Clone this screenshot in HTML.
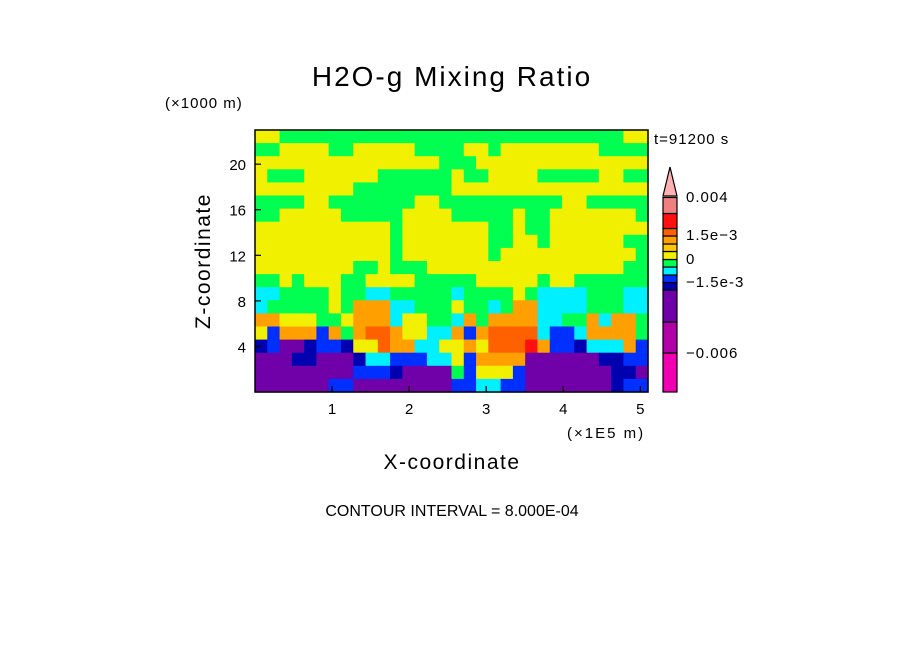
<!DOCTYPE html>
<html><head><meta charset="utf-8"><style>
body{margin:0;background:#fff;}
svg text{font-family:"Liberation Sans",sans-serif;fill:#000;}
</style></head><body>
<svg id="chart" width="904" height="654" viewBox="0 0 904 654" xmlns="http://www.w3.org/2000/svg">
<rect width="904" height="654" fill="#fff"/>
<text x="452" y="86" font-size="28" text-anchor="middle" letter-spacing="2">H2O-g Mixing Ratio</text>
<text x="165" y="108" font-size="15" letter-spacing="1">(×1000 m)</text>
<text x="654" y="144" font-size="15" letter-spacing="1">t=91200 s</text>
<g id="field"></g>
<rect x="255" y="130" width="393" height="262" fill="none" stroke="#000" stroke-width="1.5"/>
<g id="ticks"></g>
<text x="567" y="438" font-size="15" letter-spacing="2">(×1E5 m)</text>
<text x="452" y="469" font-size="21" text-anchor="middle" letter-spacing="1.5">X-coordinate</text>
<text x="210" y="261" font-size="21" text-anchor="middle" letter-spacing="1.5" transform="rotate(-90 210 261)">Z-coordinate</text>
<text x="452" y="516" font-size="16" text-anchor="middle">CONTOUR INTERVAL = 8.000E-04</text>
<g id="cbar"></g>
</svg>
<script>
const xTicks=[1,2,3,4,5];
const yTicks=[4,8,12,16,20];
const xRange=[0,5.1], yRange=[0,23];
const levelColors={P2:'#f000b0',P1:'#b000a8',P:'#7000a8',D:'#0000b0',B:'#0030ff',C:'#00f0ff',G:'#00ff50',Y:'#f0f000',o:'#ffc800',O:'#ffa000',R:'#ff6000',r:'#ff1010',S:'#f08080'};
const cbarLevels=['P2','P1','P','D','B','C','G','Y','o','O','R','r','S'];
const cbarLabels=['0.004','1.5e-3','0','-1.5e-3','-0.006'];
const grid=[
"YYGGGGGGGGGGGGGGGGGGGGGGGGGGGGYY",
"GGYYYYGGYYYYYGGGGYYGYYYYYYYYGGGG",
"YYYYYYYYYYYYYYYGGGYYYYYYYYYYYYYY",
"YGGGYYYYYYGGGGGGYGGYYYYGGGGGYYGG",
"YYYYYYYYGGGGGGGGYYYYYYYYYYYYYYYY",
"GGGGYYGGGGGGGYYGGGGGGGGGGYYGGGGG",
"GGYYYYYGGGGGYYYYGGGGGYGGYYYYYYYG",
"YYYYYYYYYYYGYYYYYYYGGYGGYYYYYYYY",
"YYYYYYYYYYYGYYYYYYYGGYYGYYYYYYGG",
"YYYYYYYYYYYGYYYYYYYGYYYYYYYYYYYG",
"YYYYYYYYGGYGGGYYYYYYYYYYYYYYYYGG",
"GGYGYYYGGYYYYGGGGGYYYYYGYYGGGGGG",
"CCGGGGYGGCCGGGGGCGGGGYGCCCCGGGCC",
"CGGGGGYGOOOCCGGGYGGCGOOCCCCGGGCC",
"OOYYYGGYOOOCYYGGCOGOOOOCCGGOCOOG",
"YBOOOBOGORROYYCCOBORRRRCBBCOOOOG",
"DBPPDBBDYYROOCCYYOYRRRrOBBDCCCOB",
"PPPDDPPPDCCBBBCCYBOOOOPPPPPPDDBB",
"PPPPPPPPBBBDPPPPGBYYYBPPPPPPPDDP",
"PPPPPPBBPPPPPPPPBBCCBBPPPPPPPDBB"
];
const NS='http://www.w3.org/2000/svg';
const px0=255,px1=648,py0=392,py1=130;
const X=v=>px0+(v-xRange[0])/(xRange[1]-xRange[0])*(px1-px0);
const Y=v=>py0-(v-yRange[0])/(yRange[1]-yRange[0])*(py0-py1);
function mk(tag,attrs,parent){const e=document.createElementNS(NS,tag);for(const k in attrs)e.setAttribute(k,attrs[k]);parent.appendChild(e);return e;}
const field=document.getElementById('field');
const rows=grid.length,cols=grid[0].length;
const cw=(px1-px0)/cols,ch=(py0-py1)/rows;
grid.forEach((row,i)=>{[...row].forEach((c,j)=>{
 const r=mk('rect',{x:(px0+j*cw).toFixed(2),y:(py1+i*ch).toFixed(2),width:(cw+0.6).toFixed(2),height:(ch+0.6).toFixed(2),fill:levelColors[c]},field);
 
 
});});
const ticks=document.getElementById('ticks');


xTicks.forEach(v=>{
 const l=mk('line',{x1:X(v),x2:X(v),y1:py0,y2:py0-6,stroke:'#000','stroke-width':1.2},ticks);
 
 
 const t=mk('text',{x:X(v),y:414,'font-size':15,'text-anchor':'middle'},ticks);t.textContent=v;
 
 
});
yTicks.forEach(v=>{
 const l=mk('line',{x1:px0,x2:px0+6,y1:Y(v),y2:Y(v),stroke:'#000','stroke-width':1.2},ticks);
 
 
 const t=mk('text',{x:246,y:Y(v)+6,'font-size':15,'text-anchor':'end'},ticks);t.textContent=v;
 
 
});
const cb=document.getElementById('cbar');
const cx0=663,cx1=677,cy0=392;
const segH=[39,31,32,7.5,7.5,8,7.5,8,7.5,8,7.5,15,16];
let yy=cy0;
cbarLevels.forEach((k,i)=>{
 const h=segH[i];
 const r=mk('rect',{x:cx0,y:yy-h,width:cx1-cx0,height:h,fill:levelColors[k],stroke:'#000','stroke-width':1.2},cb);
 
 
 yy-=h;
});
const tri=mk('polygon',{points:`${cx0},196 ${cx1},196 ${(cx0+cx1)/2},167`,fill:'#ffb0b0',stroke:'#000','stroke-width':1.2},cb);


const labY=[202,240,264,287,358];
cbarLabels.forEach((s,i)=>{
 const t=mk('text',{x:686,y:labY[i],'font-size':15,'letter-spacing':1},cb);t.textContent=s.replace('-','−');
 
 
});
</script>
</body></html>
